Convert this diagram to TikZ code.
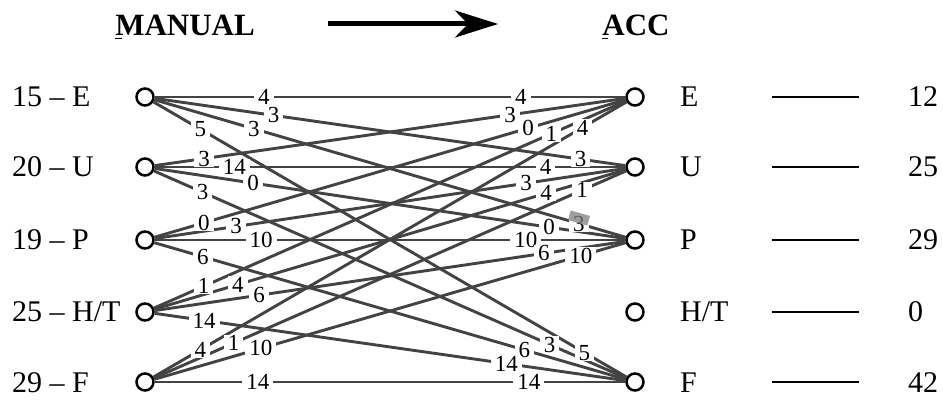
\documentclass[tikz,border=0pt]{standalone}
\usepackage{fontspec}
\setmainfont{Liberation Serif}
\usetikzlibrary{arrows.meta}
\definecolor{edgegray}{HTML}{434343}

% source/target/pos/weight/pos/weight
\def\flows{E/E/0.232/4/0.778/4, E/U/0.253/3/0.905/3, E/P/0.211/3/0.901/3, E/F/0.099/5/0.911/5,
	U/E/0.105/3/0.755/3, U/U/0.169/14/0.831/4, U/P/0.209/0/0.838/0, U/F/0.103/3/0.838/3,
	P/E/0.105/0/0.793/0, P/U/0.173/3/0.789/3, P/P/0.226/10/0.789/10, P/F/0.103/6/0.785/6,
	H/E/0.105/1/0.842/1, H/U/0.177/4/0.831/4, H/P/0.222/6/0.827/6, H/F/0.105/14/0.747/14,
	F/E/0.099/4/0.907/4, F/U/0.169/1/0.907/1, F/P/0.226/10/0.905/10, F/F/0.219/14/0.795/14}

\begin{document}
\begin{tikzpicture}[
	x=1pt, y=-1pt,
	every node/.style={font=\fontsize{30}{30}\selectfont},
	dot/.style={circle, draw, line width=2.5pt, fill=white, minimum size=17pt, inner sep=0pt},
	flow/.style={draw=edgegray, line width=2.9pt},
	weight/.style={font=\fontsize{23}{23}\selectfont, fill=white, inner xsep=4pt, inner ysep=0.5pt},
	head/.style={font=\bfseries\fontsize{31}{31}\selectfont, anchor=base},
	lab/.style={anchor=base west, inner sep=0pt},
	bar/.style={line width=2.4pt},
	hilite/.style={fill=gray, fill opacity=0.75, minimum width=20pt, minimum height=10pt, inner sep=0pt}
]
\useasboundingbox (0,0) rectangle (943,403);

\node[head] (manual) at (185,36) {\rlap{\rule[-3.5pt]{7pt}{1.3pt}}MANUAL};
\node[head] (acc) at (636,36) {\rlap{\rule[-3.5pt]{6pt}{1.3pt}}ACC};
\coordinate (from) at (328,24);
\coordinate (to) at (498,24);
\draw[line width=5pt, -{Stealth[length=43pt, width=27pt, inset=13pt]}] (from) -- (to);

\node[dot] (lE) at (145,97) {};
\node[dot] (lU) at (145,167) {};
\node[dot] (lP) at (145,240) {};
\node[dot] (lH) at (145,312) {};
\node[dot] (lF) at (145,382) {};
\node[dot] (rE) at (635,97) {};
\node[dot] (rU) at (635,167) {};
\node[dot] (rP) at (635,240) {};
\node[dot] (rH) at (635,312) {};
\node[dot] (rF) at (635,382) {};

\node[lab] (mE) at (12,107) {15 – E};
\node[lab] (mU) at (12,177) {20 – U};
\node[lab] (mP) at (12,250) {19 – P};
\node[lab] (mH) at (12,322) {25 – H/T};
\node[lab] (mF) at (12,392) {29 – F};

\node[lab] (aE) at (680,107) {E};
\node[lab] (aU) at (680,177) {U};
\node[lab] (aP) at (680,250) {P};
\node[lab] (aH) at (680,322) {H/T};
\node[lab] (aF) at (680,392) {F};

\node[lab] (nE) at (908,107) {12};
\node[lab] (nU) at (908,177) {25};
\node[lab] (nP) at (908,250) {29};
\node[lab] (nH) at (908,322) {0};
\node[lab] (nF) at (908,392) {42};

\draw[bar] (772,97) -- (859,97);
\draw[bar] (772,167) -- (859,167);
\draw[bar] (772,240) -- (859,240);
\draw[bar] (772,312) -- (859,312);
\draw[bar] (772,382) -- (859,382);

\foreach \s/\t/\p/\a/\q/\b in \flows {
	\draw[flow] (l\s) -- (r\t);
}
\foreach \s/\t/\p/\a/\q/\b in \flows {
	\path (l\s) -- node[weight, pos=\p] {\a} node[weight, pos=\q] {\b} (r\t);
}
\node[hilite, rotate=-16] (mark) at (579,218) {};
\end{tikzpicture}
\end{document}
